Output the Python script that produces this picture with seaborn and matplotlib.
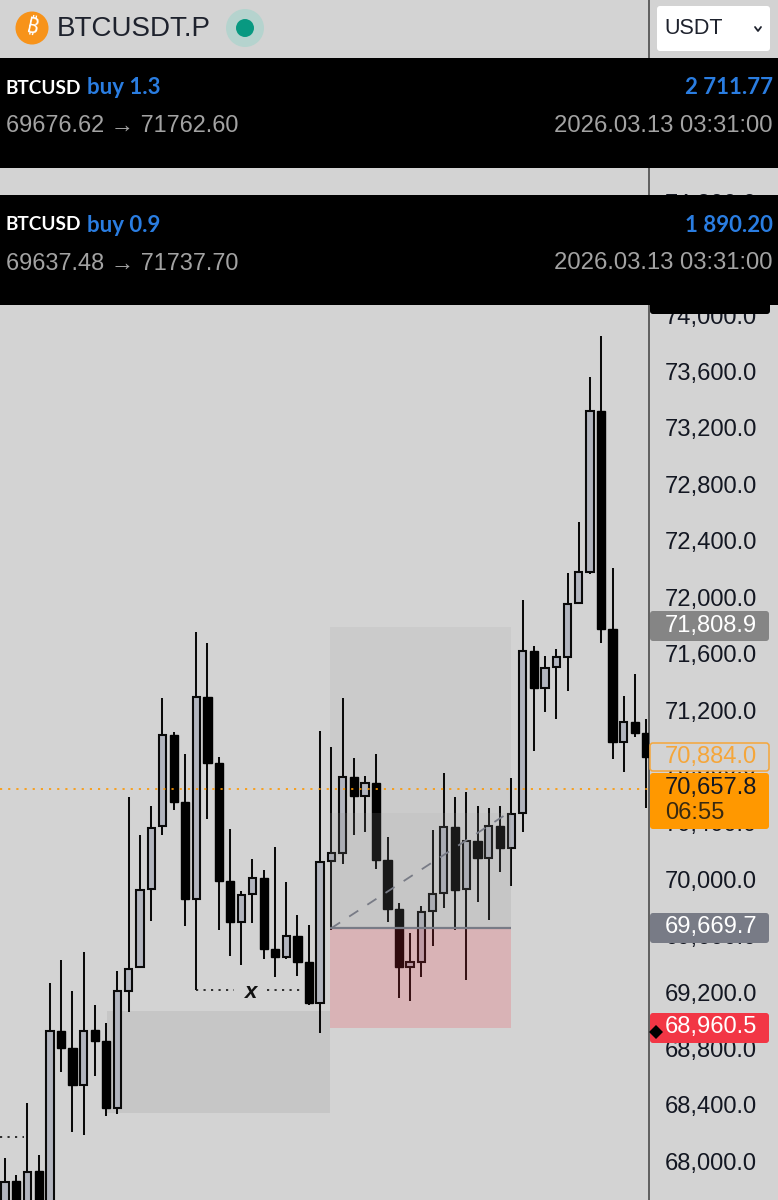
import matplotlib
matplotlib.use("Agg")
import matplotlib.pyplot as plt
from matplotlib.patches import Rectangle, FancyBboxPatch, Circle
from matplotlib.transforms import ScaledTranslation
import numpy as np
import pandas as pd
import seaborn as sns

# Candles, oldest first
highs = [68042, 67921, 68432, 68063, 69283, 69446, 69226, 69502, 69123, 69002,
         69364, 70601, 70332, 70537, 71303, 71062, 70906, 71771, 71693, 70885,
         70373, 69935, 70161, 70084, 70246, 69999, 69765, 69692, 71069, 70956,
         71303, 70878, 70750, 70906, 70317, 69850, 69637, 69828, 70367, 70771,
         70601, 70637, 70537, 70523, 70537, 70736, 71997, 71672, 71601, 71651,
         72189, 72551, 73579, 73869, 72225, 71317, 71473, 71154]
opens = [67500, 67879, 67600, 67950, 67600, 68942, 68822, 68559, 68949, 68871,
         68396, 69226, 69396, 69949, 70395, 71041, 70566, 69878, 71310, 70839,
         70006, 69718, 69913, 70027, 69524, 69467, 69618, 69431, 69141, 70147,
         70204, 70743, 70608, 70700, 70154, 69807, 69396, 69431, 69793, 69920,
         70388, 69949, 70289, 70168, 70395, 70239, 70488, 71636, 71374, 71523,
         71594, 71977, 72196, 73338, 71793, 70991, 71133, 71055]
closes = [67872, 67500, 67943, 67600, 68942, 68822, 68559, 68942, 68871, 68396,
          69226, 69382, 69942, 70381, 71041, 70566, 69878, 71310, 70839, 70006,
          69715, 69906, 70027, 69524, 69467, 69618, 69431, 69141, 70140, 70204,
          70743, 70608, 70700, 70154, 69807, 69396, 69431, 69786, 69913, 70388,
          69942, 70289, 70168, 70395, 70239, 70481, 71636, 71374, 71516, 71594,
          71969, 72196, 73338, 71793, 70991, 71133, 71055, 70885]
lows = [67400, 67400, 67500, 67500, 67500, 68652, 68226, 68205, 68623, 68340,
        68354, 69077, 69390, 69722, 70332, 70509, 69687, 69233, 70445, 69658,
        69474, 69410, 69708, 69456, 69325, 69456, 69332, 69123, 68928, 69658,
        70126, 70332, 70353, 70091, 69715, 69176, 69155, 69325, 69545, 69814,
        69658, 69304, 69857, 69729, 70069, 69970, 70353, 70927, 71204, 71154,
        71353, 71977, 72182, 71693, 70870, 70778, 71027, 70523]

# Price levels from the position tool and the scale markers
take_profit = 71808.9
entry_price = 69669.7
stop_loss = 68960.5
alert_price = 70884.0
last_price = 70657.8
fade_price = 70488
zone_high = 69084
zone_low = 68361
swing_low = 69233
old_low = 68191
trend_end = 70502

price_ticks = list(range(68000, 75000, 400))

trades = [("buy 1.3", "2 711.77", "69676.62", "71762.60", "2026.03.13 03:31:00"),
          ("buy 0.9", "1 890.20", "69637.48", "71737.70", "2026.03.13 03:31:00")]

BG = "#d3d3d3"
LABEL_SIZE = 17.1
sns.set_theme(style="white", rc={"figure.facecolor": BG, "axes.facecolor": BG,
                                 "savefig.facecolor": BG})
plt.rcParams["font.family"] = ["Liberation Sans", "DejaVu Sans"]

W, H = 778, 1200
fig = plt.figure(figsize=(W / 100, H / 100), dpi=100)
ax = fig.add_axes([0, 0, 649 / W, 1])

df = pd.DataFrame({"i": np.arange(len(opens)), "open": opens, "high": highs,
                   "low": lows, "close": closes})
df["bottom"] = df[["open", "close"]].min(axis=1)
df["span"] = (df["close"] - df["open"]).abs()
rising = df[df["close"] >= df["open"]]
falling = df[df["close"] < df["open"]]

# Zones sitting behind the candles
ax.add_patch(Rectangle((9.07, zone_low), 28.89 - 9.07, zone_high - zone_low,
                       fc="#c6c6c6", ec="none", zorder=1))
ax.add_patch(Rectangle((28.89, fade_price), 44.98 - 28.89, take_profit - fade_price,
                       fc="#cbcbcb", ec="none", zorder=1))

# Wicks and bodies
ax.vlines(df["i"], df["low"], df["high"], color="#0a0a0a", lw=1.45, zorder=2)
sns.barplot(data=rising, x="i", y="span", bottom=rising["bottom"].to_numpy(),
            native_scale=True, errorbar=None, width=0.64, color="#b2b5be",
            saturation=1, edgecolor="#0a0a0a", linewidth=1.5, zorder=3, ax=ax)
sns.barplot(data=falling, x="i", y="span", bottom=falling["bottom"].to_numpy(),
            native_scale=True, errorbar=None, width=0.74, color="black",
            saturation=1, edgecolor="black", linewidth=1.0, zorder=3, ax=ax)

# Translucent part of the position tool, above the candles
ax.add_patch(Rectangle((28.89, entry_price), 44.98 - 28.89, fade_price - entry_price,
                       fc="#8c8c8c", alpha=0.18, ec="none", zorder=4))
ax.add_patch(Rectangle((28.89, stop_loss), 44.98 - 28.89, entry_price - stop_loss,
                       fc="#f23645", alpha=0.2, ec="none", zorder=4))
ax.hlines(entry_price, 28.89, 44.98, color="#787b86", lw=1.6, zorder=5)
ax.plot([28.98, 45], [entry_price, trend_end], color="#787b86", lw=1.3,
        ls=(0, (6, 6)), zorder=5)

# Swing-low markers and the last-price line
dots = (0, (1.3, 3.2))
ax.hlines(swing_low, 17, 20.4, color="#111111", lw=1.2, ls=dots, zorder=5)
ax.hlines(swing_low, 23.3, 26.4, color="#111111", lw=1.2, ls=dots, zorder=5)
ax.hlines(old_low, -0.45, 1.7, color="#111111", lw=1.2, ls=dots, zorder=5)
ax.text(21.9, swing_low - 15, "x", fontsize=16, fontweight="bold", style="italic",
        ha="center", va="center", color="#111111", zorder=5)
ax.axhline(last_price, color="#ff9800", lw=1.2, ls=(0, (1.3, 3.6)), zorder=6)

# Scale: pixel rows 0 and 1200 correspond to these prices
ax.set_xlim(-0.444, 57.244)
ax.set_ylim(67743.8, 76251.8)
ax.set_xticks([])
ax.set_xlabel("")
ax.set_ylabel("")
ax.yaxis.tick_right()
ax.set_yticks(price_ticks)
ax.set_yticklabels([f"{p:,.1f}" for p in price_ticks])
ax.tick_params(axis="y", length=0, pad=11.5, labelsize=LABEL_SIZE, labelcolor="#131722")
nudge = ScaledTranslation(0, 2.5 / 100, fig.dpi_scale_trans)
for label in ax.get_yticklabels():
    label.set_transform(label.get_transform() + nudge)
ax.grid(False)
for side in ("left", "top", "bottom"):
    ax.spines[side].set_visible(False)
ax.spines["right"].set_color("#555555")
ax.spines["right"].set_linewidth(1.3)

# Header, trade banners and scale badges on a pixel-sized layer
ui = fig.add_axes([0, 0, 1, 1], zorder=10)
ui.set_xlim(0, W)
ui.set_ylim(H, 0)
ui.axis("off")
ui.patch.set_alpha(0)


def badge(x0, y0, x1, y1, face, edge="none", lw=0):
    ui.add_patch(FancyBboxPatch((x0, y0), x1 - x0, y1 - y0,
                                boxstyle="round,pad=0,rounding_size=3",
                                fc=face, ec=edge, lw=lw))


ui.add_patch(Circle((32, 28), 16.5, fc="#f7931a", ec="none"))
ui.text(32, 28, "₿", color="white", fontsize=15, fontweight="bold", rotation=-12,
        ha="center", va="center", family=["Noto Sans", "Inter", "Roboto", "Lato", "DejaVu Sans"])
ui.text(57, 29, "BTCUSDT.P", fontsize=20, color="#1e222d", va="center")
ui.add_patch(Circle((245, 28), 19, fc="#b5d3ce", ec="none"))
ui.add_patch(Circle((245, 28), 9, fc="#089981", ec="none"))
badge(657, 6, 770, 51, "white")
ui.text(664, 28, "USDT", fontsize=15.5, color="#1e222d", va="center")
ui.plot([755, 758, 761], [27, 31, 27], color="#1e222d", lw=1.3)

badge(650, 300, 770, 314, "black")
for (side, val, a, b, when), y0 in zip(trades, (58, 195)):
    ui.add_patch(Rectangle((0, y0), W, 110, fc="black", ec="none"))
    ui.text(6, y0 + 30, "BTCUSD", color="white", fontsize=13.7, fontweight="bold",
            family="Lato", va="center")
    ui.text(87, y0 + 30, side, color="#2a7de1", fontsize=16, fontweight="bold",
            family="Lato", va="center")
    ui.text(773, y0 + 30, val, color="#2a7de1", fontsize=16, fontweight="bold",
            family="Lato", va="center", ha="right")
    ui.text(6, y0 + 68, f"{a} → {b}", color="#a3a3a3", fontsize=16.9, va="center")
    ui.text(773, y0 + 68, when, color="#a3a3a3", fontsize=17.2, va="center", ha="right")

badge(650, 611, 769, 641, "#858585")
ui.text(665, 626, f"{take_profit:,.1f}", color="white", fontsize=LABEL_SIZE, va="center")
badge(650, 743, 769, 771, BG, edge="#f5a63a", lw=1.1)
ui.text(665, 757, f"{alert_price:,.1f}", color="#f5a63a", fontsize=LABEL_SIZE, va="center")
badge(650, 773, 769, 829, "#ff9800")
ui.text(665, 788, f"{last_price:,.1f}", color="#131722", fontsize=LABEL_SIZE, va="center")
ui.text(665, 813, "06:55", color="#3a2a10", fontsize=LABEL_SIZE, va="center")
badge(650, 913, 769, 943, "#787b86")
ui.text(665, 927, f"{entry_price:,.1f}", color="white", fontsize=LABEL_SIZE, va="center")
badge(650, 1013, 769, 1043, "#f23645")
ui.text(665, 1027, f"{stop_loss:,.1f}", color="white", fontsize=LABEL_SIZE, va="center")
ui.plot([656], [1032], marker="D", ms=6.8, color="black", mew=0)

fig.savefig("out.png", dpi=100)
